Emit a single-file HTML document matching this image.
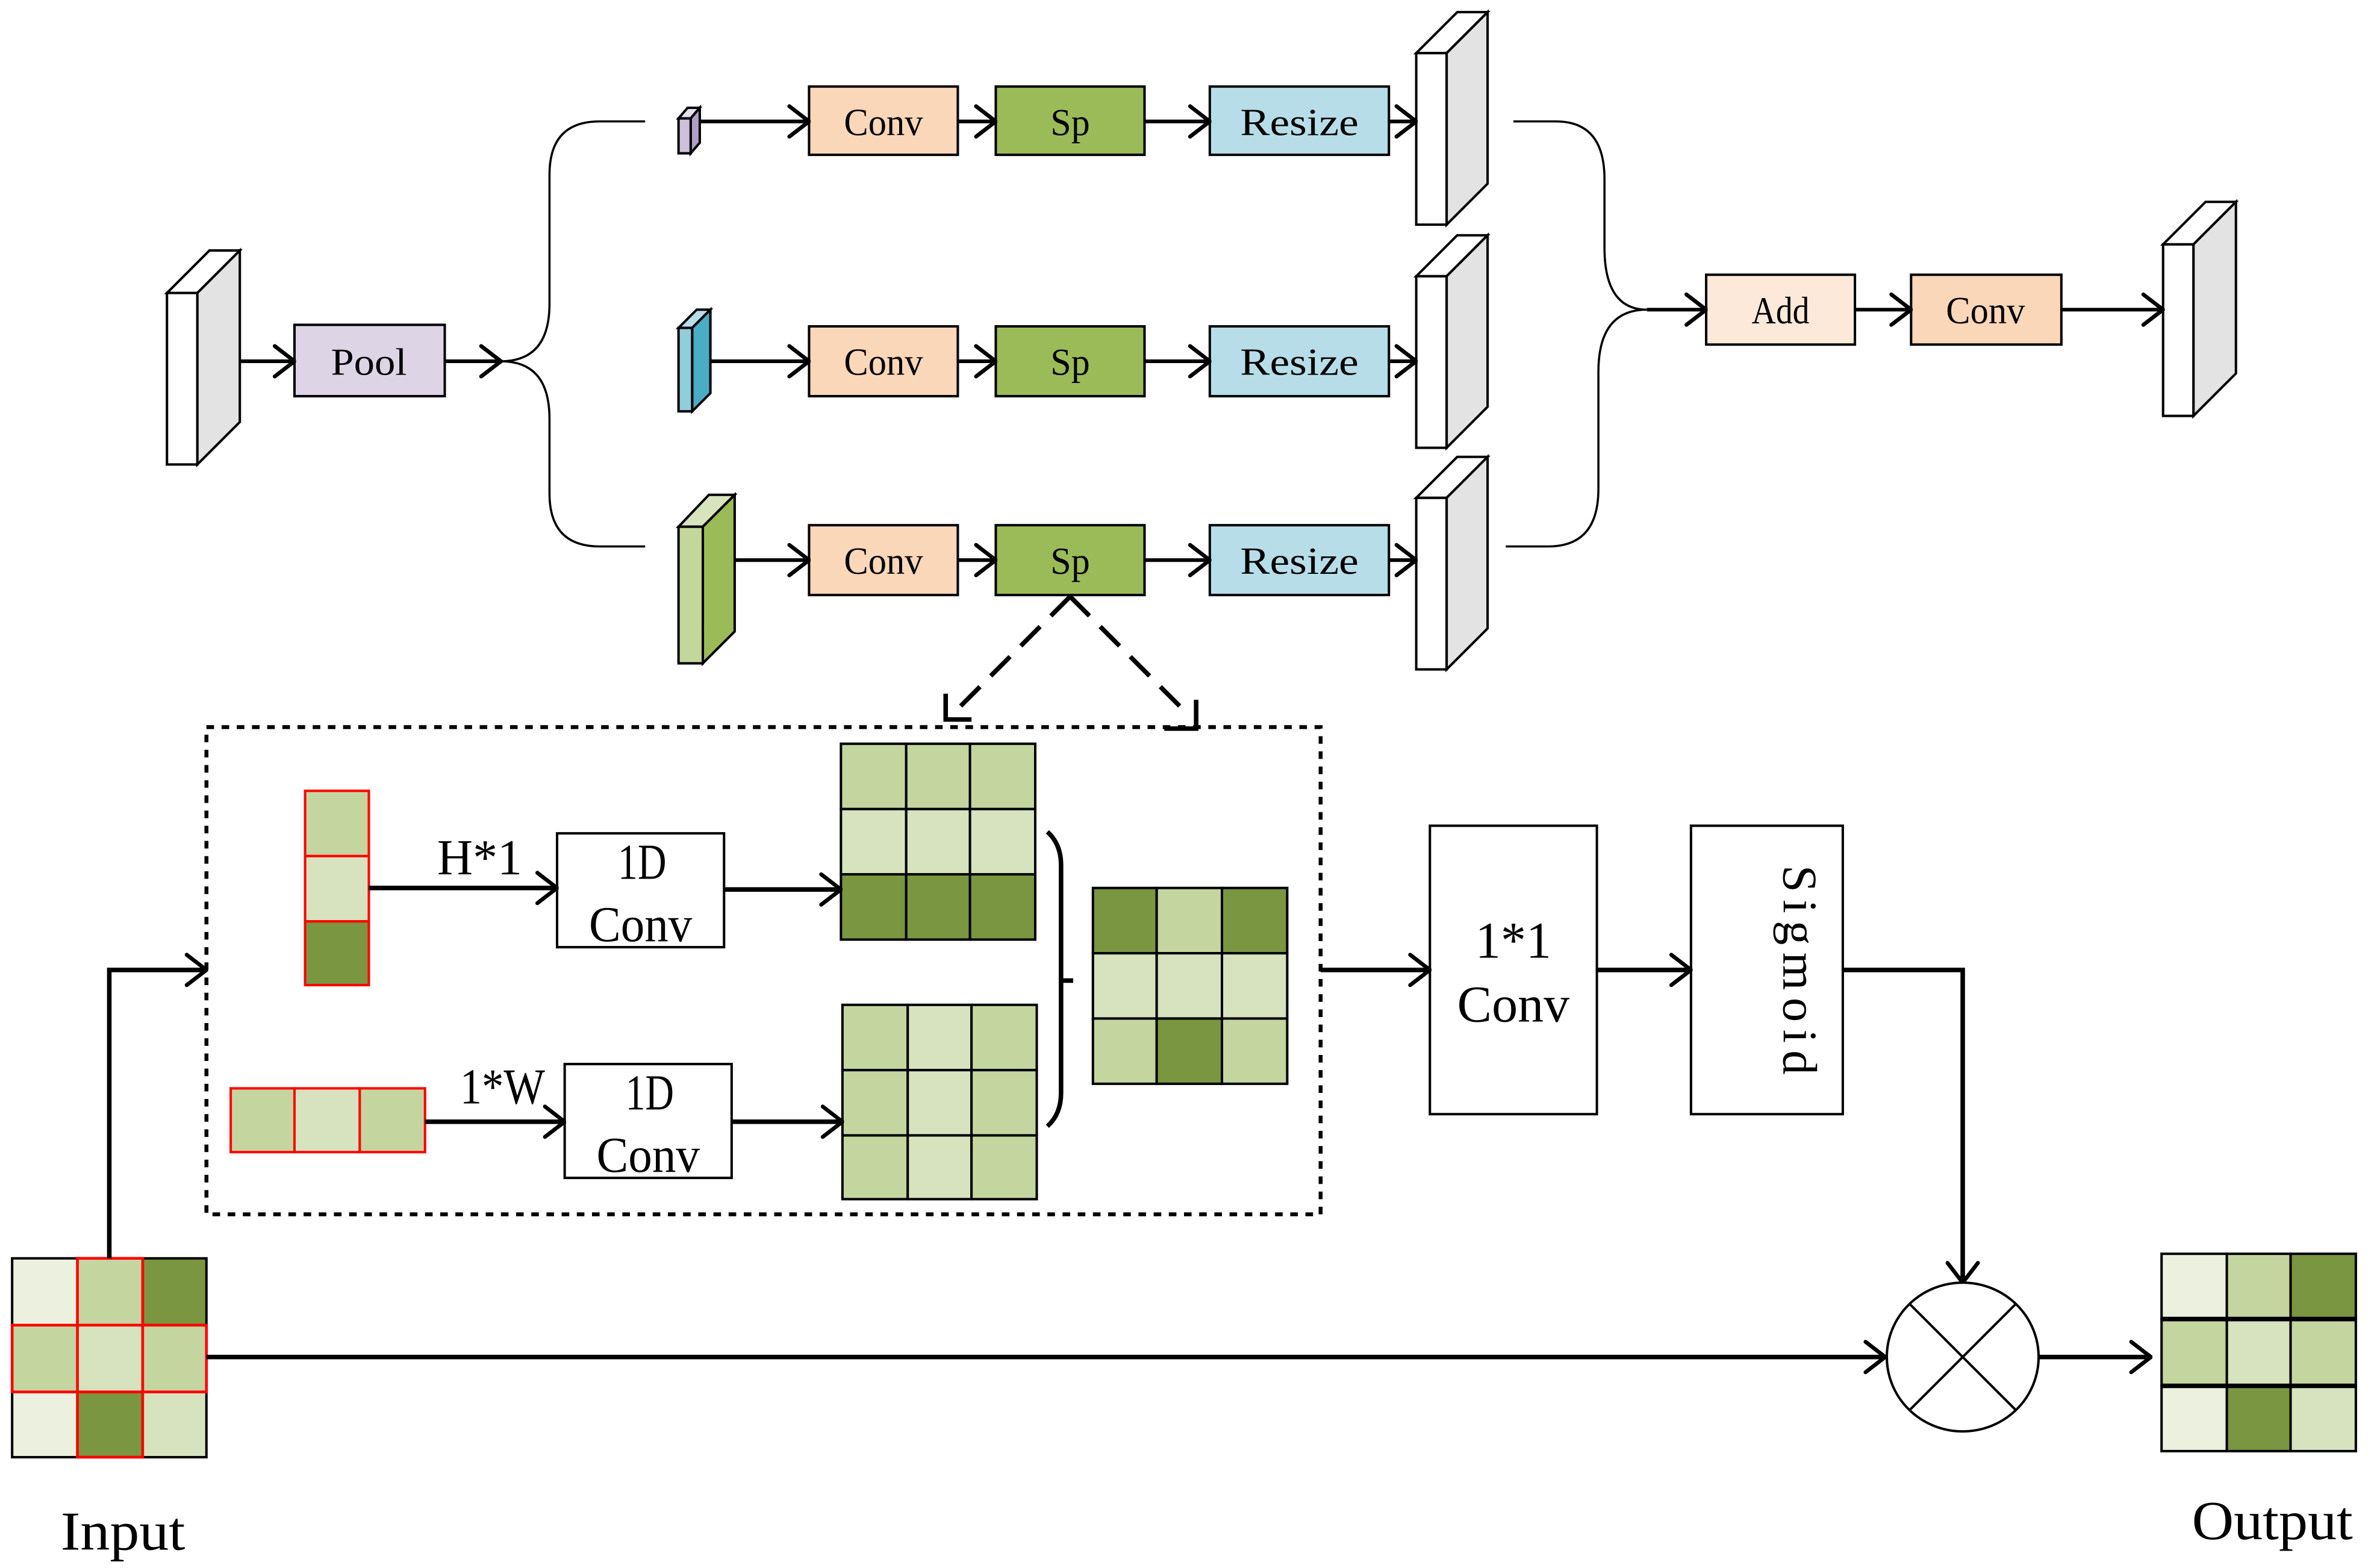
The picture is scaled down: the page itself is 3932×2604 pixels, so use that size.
<!DOCTYPE html>
<html><head><meta charset="utf-8"><style>
html,body{margin:0;padding:0;background:#fff;}
svg{display:block;}
text{font-family:"Liberation Serif",serif;fill:#000;}
</style></head><body>
<svg width="3932" height="2604" viewBox="0 0 1560 1033" preserveAspectRatio="none" xmlns="http://www.w3.org/2000/svg">
<defs>
<marker id="a" markerWidth="16" markerHeight="24" refX="15" refY="12" orient="auto" markerUnits="userSpaceOnUse">
<path d="M2,2 L15,12 L2,22" fill="none" stroke="#000" stroke-width="2.6" stroke-linecap="round"/>
</marker>
</defs>
<g stroke="#000" stroke-width="1.6">
<polygon points="110,193 138,165 158,165 130,193" fill="#fff"/>
<polygon points="130,193 158,165 158,278 130,306" fill="#e3e3e3"/>
<rect x="110" y="193" width="20" height="113" fill="#fff"/>

<polygon points="933,35 960,8 980,8 953,35" fill="#fff"/>
<polygon points="953,35 980,8 980,121 953,148" fill="#e3e3e3"/>
<rect x="933" y="35" width="20" height="113" fill="#fff"/>
<polygon points="933,182 960,155 980,155 953,182" fill="#fff"/>
<polygon points="953,182 980,155 980,268 953,295" fill="#e3e3e3"/>
<rect x="933" y="182" width="20" height="113" fill="#fff"/>
<polygon points="933,328 960,301 980,301 953,328" fill="#fff"/>
<polygon points="953,328 980,301 980,414 953,441" fill="#e3e3e3"/>
<rect x="933" y="328" width="20" height="113" fill="#fff"/>

<polygon points="1425,161 1453,133 1473,133 1445,161" fill="#fff"/>
<polygon points="1445,161 1473,133 1473,246 1445,274" fill="#e3e3e3"/>
<rect x="1425" y="161" width="20" height="113" fill="#fff"/>

<polygon points="447,78 453,71 461,71 455,78" fill="#e4e0ee"/>
<polygon points="455,78 461,71 461,94 455,101" fill="#ad9fc6"/>
<rect x="447" y="78" width="8" height="23" fill="#ccc1dc"/>

<polygon points="447,216 459,204 468,204 456,216" fill="#b7dee8"/>
<polygon points="456,216 468,204 468,259 456,271" fill="#4bacc6"/>
<rect x="447" y="216" width="9" height="55" fill="#92cddc"/>

<polygon points="447,347 467,326 484,326 463,347" fill="#d7e4bd"/>
<polygon points="463,347 484,326 484,416 463,437" fill="#9bbb59"/>
<rect x="447" y="347" width="16" height="90" fill="#c3d69b"/>

<rect x="194" y="214" width="99" height="47" fill="#ddd5e6"/>
<rect x="533" y="57" width="98" height="45" fill="#fad7b9"/>
<rect x="656" y="57" width="98" height="45" fill="#9bbb59"/>
<rect x="797" y="57" width="118" height="45" fill="#b7dee8"/>
<rect x="533" y="215" width="98" height="46" fill="#fad7b9"/>
<rect x="656" y="215" width="98" height="46" fill="#9bbb59"/>
<rect x="797" y="215" width="118" height="46" fill="#b7dee8"/>
<rect x="533" y="346" width="98" height="46" fill="#fad7b9"/>
<rect x="656" y="346" width="98" height="46" fill="#9bbb59"/>
<rect x="797" y="346" width="118" height="46" fill="#b7dee8"/>
<rect x="1124" y="181" width="98" height="46" fill="#fde9d9"/>
<rect x="1259" y="181" width="99" height="46" fill="#fad7b9"/>
</g>
<g font-size="25" text-anchor="middle">
<text x="243" y="247" textLength="50" lengthAdjust="spacingAndGlyphs">Pool</text>
<text x="582" y="89" textLength="52" lengthAdjust="spacingAndGlyphs">Conv</text><text x="705" y="89" textLength="26" lengthAdjust="spacingAndGlyphs">Sp</text><text x="856" y="89" textLength="78" lengthAdjust="spacingAndGlyphs">Resize</text>
<text x="582" y="247" textLength="52" lengthAdjust="spacingAndGlyphs">Conv</text><text x="705" y="247" textLength="26" lengthAdjust="spacingAndGlyphs">Sp</text><text x="856" y="247" textLength="78" lengthAdjust="spacingAndGlyphs">Resize</text>
<text x="582" y="378" textLength="52" lengthAdjust="spacingAndGlyphs">Conv</text><text x="705" y="378" textLength="26" lengthAdjust="spacingAndGlyphs">Sp</text><text x="856" y="378" textLength="78" lengthAdjust="spacingAndGlyphs">Resize</text>
<text x="1173" y="213" textLength="38" lengthAdjust="spacingAndGlyphs">Add</text><text x="1308" y="213" textLength="52" lengthAdjust="spacingAndGlyphs">Conv</text>
</g>
<g stroke="#000" stroke-width="2.4" fill="none">
<line x1="158" y1="238" x2="194" y2="238" marker-end="url(#a)"/>
<line x1="293" y1="238" x2="330" y2="238" marker-end="url(#a)"/>
<line x1="461" y1="80" x2="533" y2="80" marker-end="url(#a)"/>
<line x1="631" y1="80" x2="656" y2="80" marker-end="url(#a)"/>
<line x1="754" y1="80" x2="797" y2="80" marker-end="url(#a)"/>
<line x1="915" y1="80" x2="933" y2="80" marker-end="url(#a)"/>
<line x1="468" y1="238" x2="533" y2="238" marker-end="url(#a)"/>
<line x1="631" y1="238" x2="656" y2="238" marker-end="url(#a)"/>
<line x1="754" y1="238" x2="797" y2="238" marker-end="url(#a)"/>
<line x1="915" y1="238" x2="933" y2="238" marker-end="url(#a)"/>
<line x1="484" y1="369" x2="533" y2="369" marker-end="url(#a)"/>
<line x1="631" y1="369" x2="656" y2="369" marker-end="url(#a)"/>
<line x1="754" y1="369" x2="797" y2="369" marker-end="url(#a)"/>
<line x1="915" y1="369" x2="933" y2="369" marker-end="url(#a)"/>
<line x1="1085" y1="204" x2="1124" y2="204" marker-end="url(#a)"/>
<line x1="1222" y1="204" x2="1259" y2="204" marker-end="url(#a)"/>
<line x1="1358" y1="204" x2="1425" y2="204" marker-end="url(#a)"/>
</g>
<g stroke="#000" stroke-width="1.4" fill="none">
<path d="M330,238 Q362,238 362,200 L362,115 Q362,80 395,80 L425,80"/>
<path d="M330,238 Q362,238 362,276 L362,325 Q362,360 395,360 L425,360"/>
<path d="M997,80 L1025,80 Q1057,80 1057,118 L1057,163 Q1057,204 1085,204"/>
<path d="M992,360 L1020,360 Q1053,360 1053,322 L1053,245 Q1053,204 1085,204"/>
</g>
<g stroke="#000" stroke-width="3" fill="none">
<line x1="705" y1="393" x2="628" y2="470" stroke-dasharray="18,10"/>
<line x1="705" y1="393" x2="782" y2="470" stroke-dasharray="18,10"/>
<path d="M623,457 L623,474 L640,474"/>
<path d="M788,461 L788,480 L767,480"/>
<rect x="136" y="479" width="734" height="321" stroke-dasharray="5,5" stroke-width="2.6"/>
</g>
<g stroke="#f00" stroke-width="1.6">
<rect x="201" y="521" width="42" height="43" fill="#c4d5a0"/>
<rect x="201" y="564" width="42" height="43" fill="#d7e3bf"/>
<rect x="201" y="607" width="42" height="42" fill="#7a9640"/>
<rect x="152" y="717" width="42" height="42" fill="#c4d5a0"/>
<rect x="194" y="717" width="43" height="42" fill="#d7e3bf"/>
<rect x="237" y="717" width="43" height="42" fill="#c4d5a0"/>
</g>
<g stroke="#000" stroke-width="1.6" fill="#fff">
<rect x="367" y="549" width="110" height="75"/>
<rect x="372" y="701" width="110" height="75"/>
<rect x="942" y="544" width="110" height="190"/>
<rect x="1114" y="544" width="100" height="190"/>
</g>
<g font-size="33" text-anchor="middle">
<text x="423" y="579" textLength="32" lengthAdjust="spacingAndGlyphs">1D</text><text x="422" y="620" textLength="68" lengthAdjust="spacingAndGlyphs">Conv</text>
<text x="428" y="731" textLength="32" lengthAdjust="spacingAndGlyphs">1D</text><text x="427" y="772" textLength="68" lengthAdjust="spacingAndGlyphs">Conv</text>
<text x="316" y="576" textLength="56" lengthAdjust="spacingAndGlyphs">H*1</text>
<text x="331" y="727" textLength="56" lengthAdjust="spacingAndGlyphs">1*W</text>
<text x="997" y="631" font-size="34" textLength="50" lengthAdjust="spacingAndGlyphs">1*1</text>
<text x="997" y="673" font-size="34" textLength="74" lengthAdjust="spacingAndGlyphs">Conv</text>
<text x="1164" y="570" font-size="32" transform="rotate(90 1164 570)" text-anchor="start" dy="-11" textLength="138" lengthAdjust="spacing">Sigmoid</text>
<text x="81" y="1021" font-size="36" textLength="82" lengthAdjust="spacingAndGlyphs">Input</text>
<text x="1497" y="1014" font-size="36" textLength="106" lengthAdjust="spacingAndGlyphs">Output</text>
</g>
<g stroke="#000" stroke-width="1.6">
<rect x="554" y="490" width="43" height="43" fill="#c4d5a0"/><rect x="597" y="490" width="42" height="43" fill="#c4d5a0"/><rect x="639" y="490" width="43" height="43" fill="#c4d5a0"/>
<rect x="554" y="533" width="43" height="43" fill="#d7e3bf"/><rect x="597" y="533" width="42" height="43" fill="#d7e3bf"/><rect x="639" y="533" width="43" height="43" fill="#d7e3bf"/>
<rect x="554" y="576" width="43" height="43" fill="#7a9640"/><rect x="597" y="576" width="42" height="43" fill="#7a9640"/><rect x="639" y="576" width="43" height="43" fill="#7a9640"/>

<rect x="555" y="662" width="43" height="43" fill="#c4d5a0"/><rect x="598" y="662" width="42" height="43" fill="#d7e3bf"/><rect x="640" y="662" width="43" height="43" fill="#c4d5a0"/>
<rect x="555" y="705" width="43" height="43" fill="#c4d5a0"/><rect x="598" y="705" width="42" height="43" fill="#d7e3bf"/><rect x="640" y="705" width="43" height="43" fill="#c4d5a0"/>
<rect x="555" y="748" width="43" height="42" fill="#c4d5a0"/><rect x="598" y="748" width="42" height="42" fill="#d7e3bf"/><rect x="640" y="748" width="43" height="42" fill="#c4d5a0"/>

<rect x="720" y="585" width="42" height="43" fill="#7a9640"/><rect x="762" y="585" width="43" height="43" fill="#c4d5a0"/><rect x="805" y="585" width="43" height="43" fill="#7a9640"/>
<rect x="720" y="628" width="42" height="43" fill="#d7e3bf"/><rect x="762" y="628" width="43" height="43" fill="#d7e3bf"/><rect x="805" y="628" width="43" height="43" fill="#d7e3bf"/>
<rect x="720" y="671" width="42" height="43" fill="#c4d5a0"/><rect x="762" y="671" width="43" height="43" fill="#7a9640"/><rect x="805" y="671" width="43" height="43" fill="#c4d5a0"/>

<rect x="1424" y="826" width="43" height="43" fill="#ebf1de"/><rect x="1467" y="826" width="42" height="43" fill="#c4d5a0"/><rect x="1509" y="826" width="43" height="43" fill="#7a9640"/>
<rect x="1424" y="869" width="43" height="44" fill="#c4d5a0"/><rect x="1467" y="869" width="42" height="44" fill="#d7e3bf"/><rect x="1509" y="869" width="43" height="44" fill="#c4d5a0"/>
<rect x="1424" y="913" width="43" height="43" fill="#ebf1de"/><rect x="1467" y="913" width="42" height="43" fill="#7a9640"/><rect x="1509" y="913" width="43" height="43" fill="#d7e3bf"/>
<line x1="1424" y1="869" x2="1552" y2="869" stroke-width="3"/>
<line x1="1424" y1="913" x2="1552" y2="913" stroke-width="3"/>

<rect x="8" y="829" width="43" height="44" fill="#ebf1de"/><rect x="51" y="829" width="43" height="44" fill="#c4d5a0"/><rect x="94" y="829" width="42" height="44" fill="#7a9640"/>
<rect x="8" y="873" width="43" height="44" fill="#c4d5a0"/><rect x="51" y="873" width="43" height="44" fill="#d7e3bf"/><rect x="94" y="873" width="42" height="44" fill="#c4d5a0"/>
<rect x="8" y="917" width="43" height="43" fill="#ebf1de"/><rect x="51" y="917" width="43" height="43" fill="#7a9640"/><rect x="94" y="917" width="42" height="43" fill="#d7e3bf"/>
</g>
<g stroke="#f00" stroke-width="1.8" fill="none">
<rect x="51" y="829" width="43" height="131"/>
<rect x="8" y="873" width="128" height="44"/>
</g>
<path d="M690,548 Q699,556 699,570 L699,720 Q699,734 690,742 M699,646 L707,646" stroke="#000" stroke-width="3" fill="none"/>
<g stroke="#000" stroke-width="3" fill="none">
<line x1="243" y1="585" x2="367" y2="585" marker-end="url(#a)"/>
<line x1="477" y1="586" x2="554" y2="586" marker-end="url(#a)"/>
<line x1="280" y1="739" x2="372" y2="739" marker-end="url(#a)"/>
<line x1="482" y1="739" x2="555" y2="739" marker-end="url(#a)"/>
<polyline points="72,829 72,639 136,639" marker-end="url(#a)"/>
<line x1="870" y1="639" x2="942" y2="639" marker-end="url(#a)"/>
<line x1="1052" y1="639" x2="1114" y2="639" marker-end="url(#a)"/>
<polyline points="1214,639 1293,639 1293,845" marker-end="url(#a)"/>
<line x1="136" y1="894" x2="1242" y2="894" marker-end="url(#a)"/>
<line x1="1343" y1="894" x2="1417" y2="894" marker-end="url(#a)"/>
</g>
<g stroke="#000" stroke-width="1.6" fill="#fff">
<ellipse cx="1293" cy="894" rx="50" ry="49"/>
<line x1="1258" y1="859" x2="1328" y2="929"/>
<line x1="1328" y1="859" x2="1258" y2="929"/>
</g>
</svg>
</body></html>
